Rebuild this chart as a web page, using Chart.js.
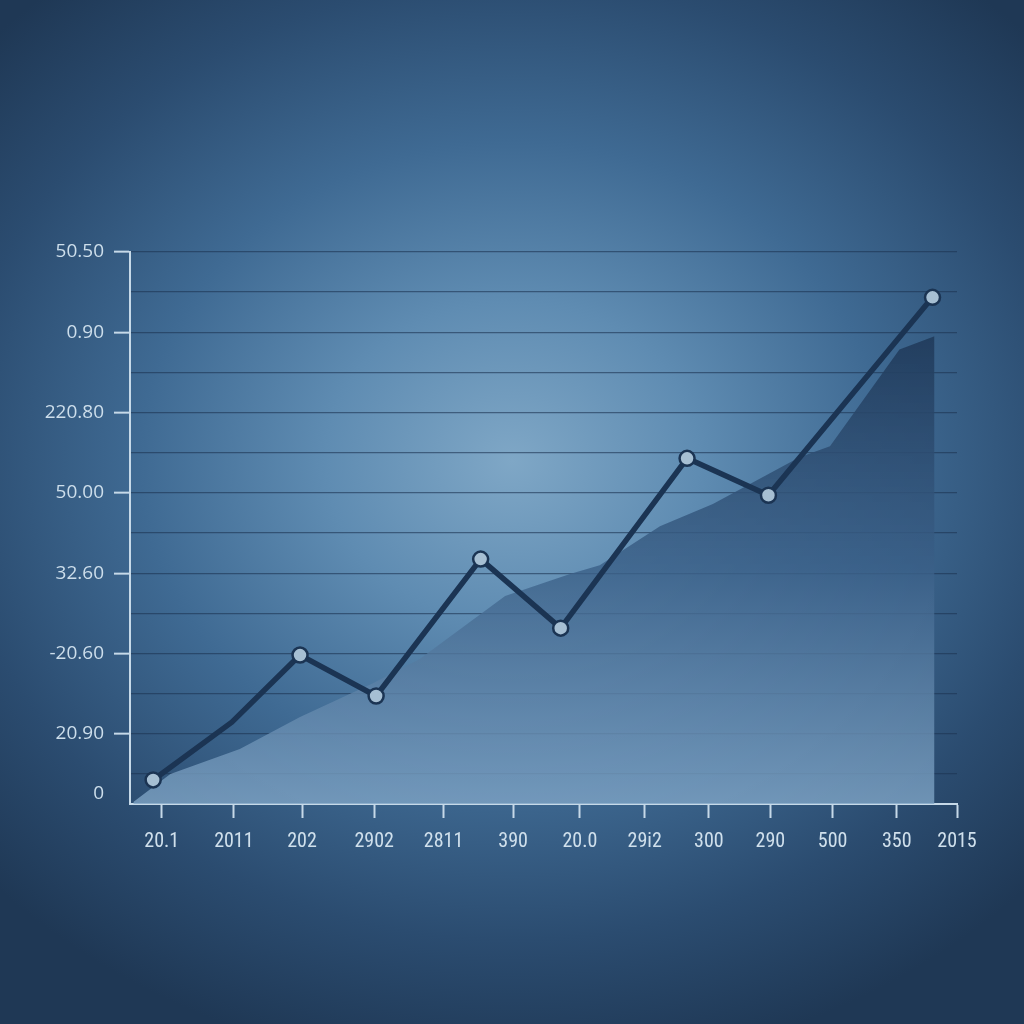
<!DOCTYPE html>
<html>
<head>
<meta charset="utf-8">
<script src="https://cdn.jsdelivr.net/npm/chart.js@4/dist/chart.umd.min.js"></script>
<style>
  html, body { margin: 0; padding: 0; }
  body {
    width: 1024px; height: 1024px; overflow: hidden;
    background: radial-gradient(ellipse 70% 60% at 50% 45%, #7fa7c6 0%, #5f8cb2 26%, #3f6a93 52%, #2b4c70 78%, #1f3855 100%);
  }
  #chart { display: block; }
</style>
</head>
<body>
<canvas id="chart" width="1024" height="1024"></canvas>
<script>
// tick labels (as printed in the picture)
const xTickLabels = ['20.1', '2011', '202', '2902', '2811', '390', '20.0', '29i2', '300', '290', '500', '350', '2015'];
const xTickValues = [-0.02, 1.07, 2.10, 3.19, 4.24, 5.29, 6.30, 7.28, 8.25, 9.18, 10.12, 11.09, 12];
const yTickLabels = ['50.50', '0.90', '220.80', '50.00', '32.60', '-20.60', '20.90', '0'];
const yTickValues = [13, 11, 9, 7, 5, 3, 1, -0.5];

// main line (x in tick-spacing units, y = gridline index)
const lineX = [-0.15, 1.04, 2.07, 3.22, 4.80, 6.01, 7.92, 9.15, 11.63];
const lineY = [-0.15, 1.29, 2.96, 1.94, 5.35, 3.63, 7.86, 6.94, 11.87];
const lineMarker = [1, 0, 1, 1, 1, 1, 1, 1, 1];

// shaded area behind it
const areaX = [-0.45, 0.11, 1.16, 2.07, 3.17, 3.88, 5.17, 6.15, 6.60, 7.51, 8.31, 9.62, 10.08, 11.13, 11.66];
const areaY = [-0.70, 0.00, 0.62, 1.42, 2.26, 2.86, 4.43, 4.98, 5.20, 6.17, 6.72, 7.89, 8.16, 10.57, 10.90];

const axisLight = '#c6d9e8';
const navy = '#1b3453';

const ctx = document.getElementById('chart').getContext('2d');

const areaFill = ctx.createLinearGradient(0, 330, 0, 805);
areaFill.addColorStop(0, 'rgba(32, 58, 90, 0.92)');
areaFill.addColorStop(0.5, 'rgba(58, 95, 135, 0.8)');
areaFill.addColorStop(1, 'rgba(128, 165, 198, 0.8)');

new Chart(ctx, {
    type: 'line',
    data: {
        datasets: [
            {
                label: 'line',
                data: lineX.map((x, i) => ({ x: x, y: lineY[i] })),
                borderColor: navy,
                borderWidth: 5.5,
                borderJoinStyle: 'round',
                borderCapStyle: 'round',
                pointRadius: lineMarker.map(m => m ? 7.5 : 0),
                pointBackgroundColor: '#a6bfd3',
                pointBorderColor: navy,
                pointBorderWidth: 2.5,
                tension: 0,
                fill: false,
                order: 1
            },
            {
                label: 'area',
                data: areaX.map((x, i) => ({ x: x, y: areaY[i] })),
                borderWidth: 0,
                borderColor: 'rgba(0,0,0,0)',
                backgroundColor: areaFill,
                pointRadius: 0,
                tension: 0,
                fill: 'start',
                order: 2
            }
        ]
    },
    options: {
        responsive: false,
        animation: false,
        devicePixelRatio: 1,
        layout: { padding: { left: 0, right: 67, top: 252, bottom: 0 } },
        plugins: { legend: { display: false }, tooltip: { enabled: false } },
        scales: {
            x: {
                type: 'linear',
                min: -0.5,
                max: 12,
                afterBuildTicks: s => { s.ticks = xTickValues.map(v => ({ value: v })); },
                afterFit: s => { s.height = 220; },
                border: { display: true, color: axisLight, width: 2 },
                grid: { drawOnChartArea: false, drawTicks: true, tickLength: 14, tickColor: axisLight, tickWidth: 2 },
                ticks: {
                    autoSkip: false,
                    maxRotation: 0,
                    padding: 12,
                    color: '#d0e0ec',
                    font: { family: '"Liberation Sans Narrow", "Roboto Condensed", Roboto, sans-serif', size: 20 },
                    callback: v => {
                        const k = xTickValues.indexOf(v);
                        return k >= 0 ? xTickLabels[k] : '';
                    }
                }
            },
            y: {
                type: 'linear',
                min: -0.75,
                max: 13,
                afterBuildTicks: s => {
                    const vals = [-0.5];
                    for (let i = 0; i <= 13; i++) vals.push(i);
                    s.ticks = vals.map(v => ({ value: v }));
                },
                afterFit: s => { s.width = 130; },
                border: { display: true, color: axisLight, width: 2 },
                grid: {
                    color: c => (c.tick && c.tick.value < 0) ? 'rgba(0,0,0,0)' : 'rgba(28, 52, 82, 0.6)',
                    lineWidth: 1.3,
                    drawTicks: true,
                    tickLength: 16,
                    tickWidth: 2,
                    tickColor: c => (c.tick && yTickValues.indexOf(c.tick.value) >= 0 && c.tick.value >= 0) ? axisLight : 'rgba(0,0,0,0)'
                },
                ticks: {
                    autoSkip: false,
                    padding: 10,
                    color: '#cddeeb',
                    font: { family: '"Open Sans", "DejaVu Sans", sans-serif', size: 19 },
                    callback: v => {
                        const k = yTickValues.indexOf(v);
                        return k >= 0 ? yTickLabels[k] : '';
                    }
                }
            }
        }
    }
});
</script>
</body>
</html>
